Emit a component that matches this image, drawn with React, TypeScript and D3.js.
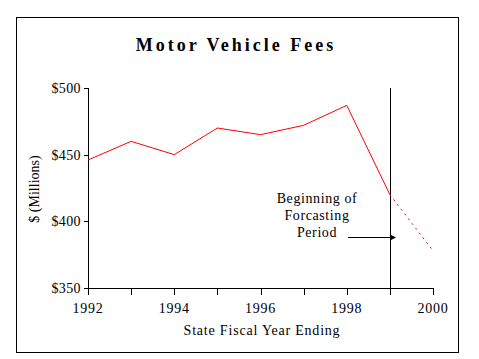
import React from "react";
import * as d3 from "d3";

const years = [1992, 1993, 1994, 1995, 1996, 1997, 1998, 1999, 2000];
const actualValues = [446, 460, 450, 470, 465, 472, 487, 420];
const forecastValues = [420, 378];
const forecastYears = [1999, 2000];
const yTicks = [350, 400, 450, 500];
const xTickLabels = [1992, 1994, 1996, 1998, 2000];
const forecastStart = 1999;
const annotationLines = ["Beginning of", "Forcasting", "Period"];

const W = 479;
const H = 359;
const serif = "'Liberation Serif', 'Times New Roman', serif";

export default function App() {
  const x = d3.scaleLinear().domain([1992, 2000]).range([88, 433]);
  const y = d3.scaleLinear().domain([350, 500]).range([288, 88]);
  const line = d3
    .line<[number, number]>()
    .x((d) => x(d[0]))
    .y((d) => y(d[1]));
  const actual: [number, number][] = actualValues.map((v, i) => [years[i], v]);
  const forecast: [number, number][] = forecastValues.map((v, i) => [forecastYears[i], v]);
  const arrowY = 237.5;
  return (
    <svg
      width={W}
      height={H}
      style={{ position: "absolute", left: 0, top: 0, background: "#fff" }}
      fontFamily={serif}
    >
      <rect x={16.5} y={17.5} width={442} height={335} fill="none" stroke="#000" strokeWidth={1} />
      <text
        x={236}
        y={51}
        textAnchor="middle"
        fontSize={18}
        fontWeight="bold"
        letterSpacing={3}
      >
        Motor Vehicle Fees
      </text>
      {/* y axis */}
      <line x1={88.5} x2={88.5} y1={y(500)} y2={295} stroke="#000" />
      {yTicks.map((t) => (
        <g key={t}>
          <line x1={84} x2={88.5} y1={Math.round(y(t)) + 0.5} y2={Math.round(y(t)) + 0.5} stroke="#000" />
          <text x={81} y={y(t)} dy="0.35em" textAnchor="end" fontSize={14} letterSpacing={0.4}>
            {"$" + t}
          </text>
        </g>
      ))}
      {/* x axis */}
      <line x1={88} x2={x(2000)} y1={288.5} y2={288.5} stroke="#000" />
      {years.map((yr) => (
        <line
          key={yr}
          x1={Math.round(x(yr)) + 0.5}
          x2={Math.round(x(yr)) + 0.5}
          y1={288}
          y2={295}
          stroke="#000"
        />
      ))}
      {xTickLabels.map((yr) => (
        <text key={yr} x={x(yr)} y={313} textAnchor="middle" fontSize={14} letterSpacing={0.8}>
          {yr}
        </text>
      ))}
      <text x={262} y={335} textAnchor="middle" fontSize={14} letterSpacing={0.8}>
        State Fiscal Year Ending
      </text>
      <text
        transform={`translate(39,189) rotate(-90)`}
        textAnchor="middle"
        fontSize={14}
      >
        $ (Millions)
      </text>
      {/* forecast start line */}
      <line
        x1={Math.round(x(forecastStart)) + 0.5}
        x2={Math.round(x(forecastStart)) + 0.5}
        y1={y(500)}
        y2={288}
        stroke="#000"
      />
      {/* data */}
      <path d={line(actual) || ""} fill="none" stroke="#ff0000" strokeWidth={1} />
      <path
        d={line(forecast) || ""}
        fill="none"
        stroke="#ff0000"
        strokeWidth={1}
        strokeDasharray="2,4"
      />
      {/* annotation */}
      {annotationLines.map((s, i) => (
        <text key={s} x={317} y={203 + i * 17} textAnchor="middle" fontSize={14} letterSpacing={0.6}>
          {s}
        </text>
      ))}
      <line x1={348} x2={391} y1={arrowY} y2={arrowY} stroke="#000" />
      <path d={`M396,${arrowY} L390,${arrowY - 3} L390,${arrowY + 3} Z`} fill="#000" />
    </svg>
  );
}
